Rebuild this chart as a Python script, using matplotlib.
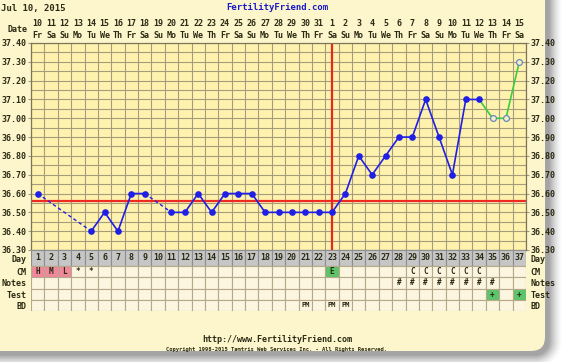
import numpy as np
import matplotlib.pyplot as plt
from matplotlib.patches import Rectangle, FancyBboxPatch

W, H = 569, 362

# chart data
cycle_days = list(range(1, 38))
date_nums = ["10", "11", "12", "13", "14", "15", "16", "17", "18", "19", "20",
             "21", "22", "23", "24", "25", "26", "27", "28", "29", "30", "31",
             "1", "2", "3", "4", "5", "6", "7", "8", "9", "10", "11", "12",
             "13", "14", "15"]
weekdays = ["Fr", "Sa", "Su", "Mo", "Tu", "We", "Th",
            "Fr", "Sa", "Su", "Mo", "Tu", "We", "Th",
            "Fr", "Sa", "Su", "Mo", "Tu", "We", "Th",
            "Fr", "Sa", "Su", "Mo", "Tu", "We", "Th",
            "Fr", "Sa", "Su", "Mo", "Tu", "We", "Th",
            "Fr", "Sa"]
temps = [36.60, None, None, None, 36.40, 36.50, 36.40, 36.60, 36.60, None,
         36.50, 36.50, 36.60, 36.50, 36.60, 36.60, 36.60, 36.50, 36.50, 36.50,
         36.50, 36.50, 36.50, 36.60, 36.80, 36.70, 36.80, 36.90, 36.90, 37.10,
         36.90, 36.70, 37.10, 37.10, 37.00, 37.00, 37.30]
last_charted_day = 34        # later days drawn in green, open markers
coverline = 36.56
ovulation_day = 23

cm_marks = {1: "H", 2: "M", 3: "L", 4: "*", 5: "*", 23: "E",
            29: "C", 30: "C", 31: "C", 32: "C", 33: "C", 34: "C"}
cm_fill = {1: "#f0879b", 2: "#f0879b", 3: "#f0879b", 23: "#5cc46a"}
notes_days = [28, 29, 30, 31, 32, 33, 34, 35]
test_days = [35, 37]
bd_days = [21, 23, 24]

row_names = ["Day", "CM", "Notes", "Test", "BD"]
row_edges = [0, 16, 27.25, 38.5, 49.75, 61]

# styling
CARD = "#fdf6cc"
PLOT_BG = "#fff2ae"
CELL_BG = "#fcf5e0"
GRID = "#a59c7c"
TXT = "#2b2a14"
FONT = "DejaVu Sans Mono"
FS = 6
plt.rcParams["font.family"] = [FONT]
plt.rcParams["font.weight"] = "bold"

fig = plt.figure(figsize=(W / 100, H / 100), dpi=100)
fig.patch.set_facecolor("white")

# background card with a soft shadow (pixel coords)
bg = fig.add_axes([0, 0, 1, 1], zorder=-5)
bg.set_xlim(0, W)
bg.set_ylim(H, 0)
bg.axis("off")
yy, xx = np.mgrid[0:H, 0:W] + 0.5
x0, y0, x1, y1, r = -30, -30, 549, 355, 14
qx = np.maximum(np.maximum(x0 + r - xx, xx - (x1 - r)), 0)
qy = np.maximum(np.maximum(y0 + r - yy, yy - (y1 - r)), 0)
dist = np.hypot(qx, qy) - r
alpha = np.clip(1 - np.maximum(dist, 0) / 14, 0, 1) ** 1.6 * 0.55
shadow = np.zeros((H, W, 4))
shadow[..., :3] = 0.35
shadow[..., 3] = alpha
bg.imshow(shadow, extent=(0, W, H, 0), zorder=0)
card = FancyBboxPatch((-30, -30), 575, 381, boxstyle="round,pad=0,rounding_size=14",
                      facecolor=CARD, edgecolor="none", zorder=1)
bg.add_patch(card)

bg.text(1, 8, "Jul 10, 2015", ha="left", va="center", fontsize=6.5, color=TXT, zorder=3)
bg.text(277, 8, "FertilityFriend.com", ha="center", va="center", fontsize=6.5,
        color="#1a1ac8", zorder=3)
bg.text(28, 29, "Date", ha="right", va="center", fontsize=FS, color=TXT, zorder=3)
bg.text(277, 340, "http://www.FertilityFriend.com", ha="center", va="center",
        fontsize=6, color=TXT, zorder=3)
bg.text(277, 350, "Copyright 1998-2015 Tamtris Web Services Inc. - All Rights Reserved.",
        ha="center", va="center", fontsize=4, color=TXT, zorder=3)

# temperature chart
ax = fig.add_axes([31 / W, 1 - 250 / H, 495 / W, 207 / H])
ax.set_facecolor(PLOT_BG)
ax.set_xlim(0.5, 37.5)
ax.set_ylim(36.30, 37.40)
ax.set_xticks(cycle_days)
ax.set_xticklabels([f"{n}\n{w}" for n, w in zip(date_nums, weekdays)],
                   fontsize=FS, color=TXT, linespacing=1.35)
ax.set_xticks(np.arange(0.5, 38, 1), minor=True)
ax.xaxis.tick_top()
ax.tick_params(axis="x", which="both", length=0, pad=2.5)
yt = np.round(np.arange(36.30, 37.401, 0.1), 2)
ax.set_yticks(yt)
ax.set_yticklabels([f"{v:.2f}" for v in yt], fontsize=FS, color=TXT)
ax.set_yticks(np.round(np.arange(36.35, 37.40, 0.1), 2), minor=True)
ax.tick_params(axis="y", which="major", left=True, right=True, labelleft=True,
               labelright=True, length=2, pad=1.5, color=GRID)
ax.tick_params(axis="y", which="minor", length=0)
ax.grid(which="minor", axis="x", color=GRID, linewidth=0.8)
ax.grid(which="both", axis="y", color=GRID, linewidth=0.8)
ax.set_axisbelow(True)
for s in ax.spines.values():
    s.set_color("#7d7558")
    s.set_linewidth(0.9)

BLUE = "#1f1fe6"
GREEN = "#3ccc3c"
days_arr = np.array(cycle_days, dtype=float)
t_arr = np.array([np.nan if t is None else t for t in temps])
main = days_arr <= last_charted_day
ax.plot(days_arr[main], t_arr[main], color=BLUE, linewidth=1.2, zorder=4,
        marker="o", markersize=4.8, markeredgewidth=0)
# dashed bridges over missing days
valid = [d for d, t in zip(cycle_days, temps) if t is not None and d <= last_charted_day]
for a, b in zip(valid[:-1], valid[1:]):
    if b - a > 1:
        ax.plot([a, b], [temps[a - 1], temps[b - 1]], color=BLUE, linewidth=1,
                linestyle=(0, (2.5, 2)), zorder=3)
late = days_arr >= last_charted_day
ax.plot(days_arr[late], t_arr[late], color=GREEN, linewidth=1.2, zorder=3)
fut = days_arr > last_charted_day
ax.plot(days_arr[fut], t_arr[fut], linestyle="none", marker="o", markersize=4.2,
        markerfacecolor="#f4f0c8", markeredgecolor="#6a86c0", markeredgewidth=0.9, zorder=5)

ax.axhline(coverline, color="#ee2a22", linewidth=1.6, zorder=2.5)
ax.axvline(ovulation_day, color="#e8281e", linewidth=1.6, zorder=2.5)

# chart table below
tb = fig.add_axes([31 / W, 1 - 311 / H, 495 / W, 61 / H])
tb.set_xlim(0.5, 37.5)
tb.set_ylim(61, 0)
tb.set_facecolor(CELL_BG)
for s in tb.spines.values():
    s.set_visible(False)
tb.set_xticks([])
centers = [(a + b) / 2 for a, b in zip(row_edges[:-1], row_edges[1:])]
tb.set_yticks(centers)
tb.set_yticklabels(row_names, fontsize=FS, color=TXT)
tb.tick_params(axis="y", length=0, left=False, right=False, labelleft=True,
               labelright=True, pad=3)

for ri in range(len(row_names)):
    top, bot = row_edges[ri], row_edges[ri + 1]
    for d in cycle_days:
        fc = "#c6c6c6" if ri == 0 else CELL_BG
        ec = "#8e8e8e" if ri == 0 else "#b4aa8a"
        if ri == 1 and d in cm_fill:
            fc = cm_fill[d]
        if ri == 3 and d in test_days:
            fc = "#5cc46a"
        tb.add_patch(Rectangle((d - 0.5, top), 1, bot - top, facecolor=fc,
                               edgecolor=ec, linewidth=0.8))

for d in cycle_days:
    tb.text(d, centers[0], str(d), ha="center", va="center", fontsize=FS, color=TXT)
for d, m in cm_marks.items():
    tb.text(d, centers[1], m, ha="center", va="center", fontsize=5.5, color=TXT)
for d in notes_days:
    tb.text(d, centers[2], "#", ha="center", va="center", fontsize=5.5, color=TXT)
for d in test_days:
    tb.text(d, centers[3], "+", ha="center", va="center", fontsize=5.5, color=TXT)
for d in bd_days:
    tb.text(d, centers[4], "PM", ha="center", va="center", fontsize=5, color=TXT)

fig.savefig("out.png", dpi=100, facecolor=fig.get_facecolor())
